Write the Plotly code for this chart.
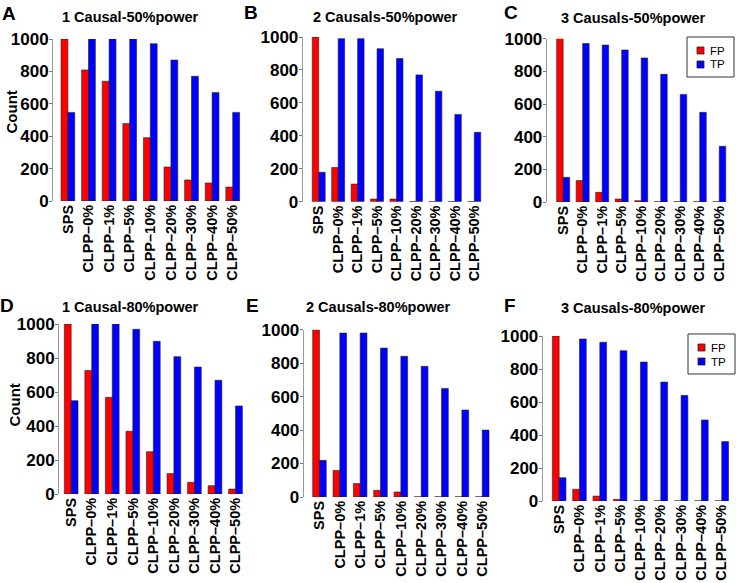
import plotly.graph_objects as go

W, H = 736, 583

categories = ["SPS", "CLPP–0%", "CLPP–1%", "CLPP–5%", "CLPP–10%",
              "CLPP–20%", "CLPP–30%", "CLPP–40%", "CLPP–50%"]

titles = ["1 Causal-50%power", "2 Causals-50%power", "3 Causals-50%power",
          "1 Causal-80%power", "2 Causals-80%power", "3 Causals-80%power"]
panel_letters = ["A", "B", "C", "D", "E", "F"]
series_names = ["FP", "TP"]
series_colors = ["#FF0000", "#0000FF"]

fp_A = [1000, 809, 739, 479, 391, 210, 130, 111, 86]
tp_A = [547, 1000, 1000, 1000, 971, 870, 770, 669, 547]
fp_B = [1000, 208, 107, 16, 16, 1, 1, 1, 1]
tp_B = [179, 990, 990, 929, 869, 770, 671, 530, 421]
fp_C = [1000, 131, 59, 18, 8, 1, 1, 1, 1]
tp_C = [151, 971, 961, 931, 882, 782, 659, 549, 341]
fp_D = [1000, 727, 569, 369, 249, 120, 69, 49, 29]
tp_D = [549, 1000, 1000, 969, 898, 808, 747, 669, 518]
fp_E = [1000, 159, 80, 40, 30, 1, 1, 1, 1]
tp_E = [219, 980, 980, 890, 841, 781, 649, 520, 400]
fp_F = [1000, 71, 30, 10, 1, 1, 1, 1, 1]
tp_F = [141, 982, 962, 911, 842, 721, 640, 491, 360]

y_ticks = [0, 200, 400, 600, 800, 1000]

fp_all = [fp_A, fp_B, fp_C, fp_D, fp_E, fp_F]
tp_all = [tp_A, tp_B, tp_C, tp_D, tp_E, tp_F]

FONT = "Liberation Sans, Arial, Helvetica, sans-serif"

# layout geometry in pixels: (x0, x1, yaxis_x, ytop, ybottom)
geom = [
    (57.6, 243.0, 52.0, 39.0, 201.0),
    (309.0, 484.0, 301.7, 37.0, 201.7),
    (553.4, 729.0, 545.7, 38.7, 202.0),
    (60.9, 245.8, 58.0, 324.0, 494.0),
    (309.3, 492.4, 302.7, 329.7, 497.0),
    (549.0, 731.9, 541.7, 336.0, 501.0),
]
title_pos = [(130, 17), (385, 17), (633, 18), (130, 307), (378, 307), (633, 308)]
letter_pos = [(9, 14), (251, 12), (511, 12), (7, 305), (252, 305), (510, 305)]
count_pos = [(0, 112), (3, 405)]
# manual legend boxes: (x0, y0, x1, y1)
legend_boxes = [(687, 37, 734, 77), (688, 334, 735, 374)]


def px(x):
    return x / W


def py(y):
    return 1 - y / H


fig = go.Figure()
layout = dict(
    width=W, height=H, margin=dict(l=0, r=0, t=0, b=0, autoexpand=False),
    paper_bgcolor="white", plot_bgcolor="white",
    barmode="group", bargap=1 / 3, bargroupgap=0,
    font=dict(family=FONT, color="black"),
    showlegend=False,
    annotations=[], shapes=[],
)

for i in range(6):
    n = "" if i == 0 else str(i + 1)
    xa, ya = "x" + n, "y" + n
    for name, color, vals in zip(series_names, series_colors, [fp_all[i], tp_all[i]]):
        fig.add_trace(go.Bar(
            x=categories, y=vals, name=name, xaxis=xa, yaxis=ya,
            marker=dict(color=color, line=dict(color="#222222", width=0.6)),
            offsetgroup=name,
        ))
    x0, x1, yx, yt, yb = geom[i]
    layout["xaxis" + n] = dict(
        domain=[px(x0), px(x1)], anchor=ya, range=[-0.5, 8.5],
        showline=False, showgrid=False, zeroline=False, ticks="",
        tickangle=-90, automargin=False,
        tickfont=dict(size=14.5, family=FONT, color="black", weight="bold"),
        type="category",
    )
    layout["yaxis" + n] = dict(
        domain=[py(yb), py(yt)], anchor="free", position=px(yx),
        range=[0, 1000], tickvals=y_ticks, showgrid=False, zeroline=False,
        showline=True, linecolor="#9a9a9a", linewidth=1, automargin=False,
        ticks="outside", ticklen=3, tickcolor="#777777", ticklabelstandoff=-3,
        tickfont=dict(size=17, family=FONT, color="black", weight="bold"),
    )
    tx, ty = title_pos[i]
    layout["annotations"].append(dict(
        text=titles[i], x=px(tx), y=py(ty), xref="paper", yref="paper",
        xanchor="center", yanchor="middle", showarrow=False,
        font=dict(size=14.5, family=FONT, color="black", weight="bold")))
    lx, ly = letter_pos[i]
    layout["annotations"].append(dict(
        text=panel_letters[i], x=px(lx), y=py(ly), xref="paper", yref="paper",
        xanchor="center", yanchor="middle", showarrow=False,
        font=dict(size=19, family=FONT, color="black", weight="bold")))

for cx, cy in count_pos:
    layout["annotations"].append(dict(
        text="Count", x=px(cx), y=py(cy), xref="paper", yref="paper",
        xanchor="left", yanchor="middle", showarrow=False, textangle=-90,
        font=dict(size=15, family=FONT, color="black", weight="bold")))

# legends (C and F)
for bx0, by0, bx1, by1 in legend_boxes:
    layout["shapes"].append(dict(
        type="rect", xref="paper", yref="paper",
        x0=px(bx0), x1=px(bx1), y0=py(by1), y1=py(by0),
        line=dict(color="#333333", width=1), fillcolor="white", layer="above"))
    for k, (name, color) in enumerate(zip(series_names, series_colors)):
        sy = by0 + 10 + k * 14
        layout["shapes"].append(dict(
            type="rect", xref="paper", yref="paper",
            x0=px(bx0 + 10), x1=px(bx0 + 17), y0=py(sy + 7), y1=py(sy),
            line=dict(color="#222222", width=0.8), fillcolor=color, layer="above"))
        layout["annotations"].append(dict(
            text=name, x=px(bx0 + 22), y=py(sy + 3.5), xref="paper", yref="paper",
            xanchor="left", yanchor="middle", showarrow=False, borderpad=0,
            font=dict(size=11.5, family=FONT, color="black")))

fig.update_layout(**layout)
fig.write_html(
    "out.html",
    config={"displayModeBar": False},
    post_script="document.body.style.margin='0';document.body.style.overflow='hidden';",
)
